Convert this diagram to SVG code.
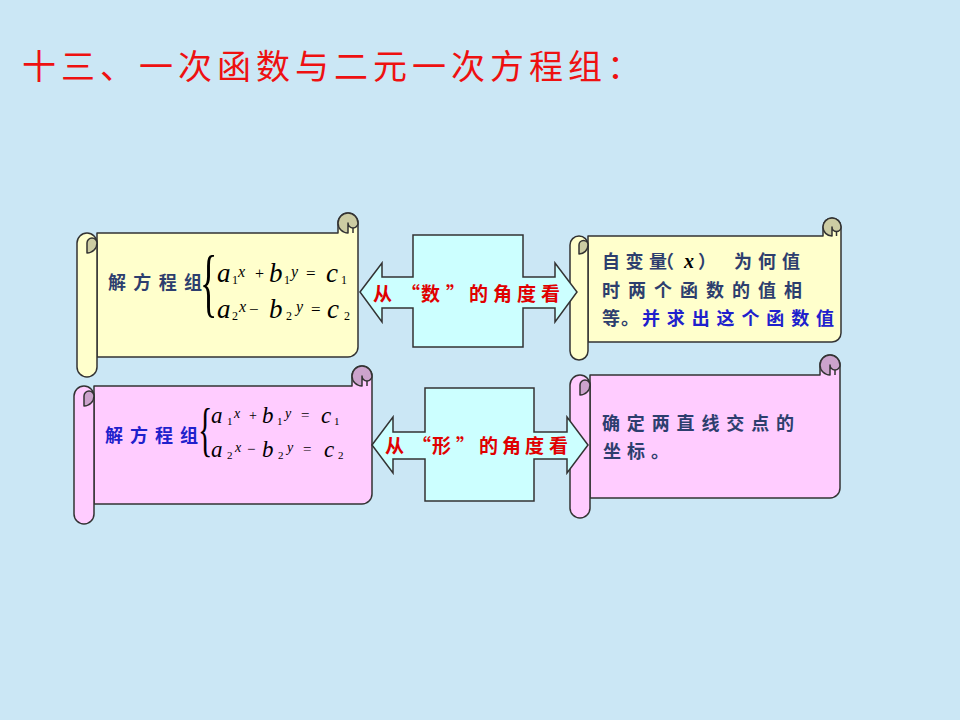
<svg xmlns="http://www.w3.org/2000/svg" width="960" height="720" viewBox="0 0 960 720">
<style>
.bg{fill:#cbe7f5}
.out{stroke:#333;stroke-width:1.5;stroke-linejoin:round}
.yel{fill:#ffffcc}
.yelD{fill:#cccca3}
.pnk{fill:#ffccff}
.pnkD{fill:#cca3cc}
.arr{fill:#ccffff;stroke:#333;stroke-width:1.5;stroke-linejoin:miter}
.line{fill:none;stroke:#333;stroke-width:1.5}
.cjk{font-family:"Noto Sans CJK SC","Noto Sans CJK TC",sans-serif;font-weight:bold;font-size:18px}
.dark{fill:#2d3e6e}
.blue{fill:#2020cc}
.red{fill:#e00000;font-size:19px}
.m{font-family:"Liberation Serif","Times New Roman",serif;fill:#000}
.i{font-style:italic}
</style>
<rect class="bg" x="0" y="0" width="960" height="720"/>

<g id="title">
<text x="22" y="79" font-family="Noto Sans CJK SC, sans-serif" font-size="34" fill="#ee1111" textLength="619" lengthAdjust="spacing">十三、一次函数与二元一次方程组：</text>
</g>

<g id="scroll-eq-number">
<path class="out yel" d="M97,233 L338,233 L338,223 A10,10 0 0 1 358,223 L358,347 A10,10 0 0 1 348,357 L97,357 Z"/>
<path class="out yelD" d="M338,223 A10,10 0 0 1 358,223 A5,5 0 0 1 348,223 L348,233 A10,10 0 0 1 338,223 Z"/>
<path class="line" d="M353,228 L353,233"/>
<path class="out yel" d="M77,243 A10,10 0 0 1 97,243 L97,367 A10,10 0 0 1 77,367 Z"/>
<path class="out yelD" d="M87,243 A5,5 0 0 1 97,243 A10,10 0 0 1 87,253 Z"/>
<text class="cjk dark" x="108" y="289" textLength="94" lengthAdjust="spacing">解方程组</text>
<text class="m" transform="translate(200,308) scale(1,2.1)" font-size="36">{</text>
<g class="m">
<text class="i" x="217" y="282" font-size="27">a</text>
<text x="232" y="284" font-size="12">1</text>
<text class="i" x="238" y="277" font-size="16">x</text>
<text x="255" y="279" font-size="16">+</text>
<text class="i" x="269" y="282" font-size="27">b</text>
<text x="284" y="284" font-size="12">1</text>
<text class="i" x="291" y="277" font-size="16">y</text>
<text x="306" y="279" font-size="17">=</text>
<text class="i" x="326" y="282" font-size="27">c</text>
<text x="341" y="284" font-size="12">1</text>
<text class="i" x="217" y="318" font-size="27">a</text>
<text x="232" y="320" font-size="12">2</text>
<text class="i" x="239" y="312" font-size="16">x</text>
<text x="249" y="315" font-size="17">−</text>
<text class="i" x="269" y="318" font-size="27">b</text>
<text x="286" y="320" font-size="12">2</text>
<text class="i" x="296" y="312" font-size="16">y</text>
<text x="311" y="315" font-size="17">=</text>
<text class="i" x="327" y="318" font-size="27">c</text>
<text x="344" y="320" font-size="12">2</text>
</g>
</g>

<g id="scroll-number-result">
<path class="out yel" d="M588,236 L823,236 L823,227 A9,9 0 0 1 841,227 L841,333 A9,9 0 0 1 832,342 L588,342 Z"/>
<path class="out yelD" d="M823,227 A9,9 0 0 1 841,227 A4.5,4.5 0 0 1 832,227 L832,236 A9,9 0 0 1 823,227 Z"/>
<path class="line" d="M836.5,231.5 L836.5,236"/>
<path class="out yel" d="M570,245 A9,9 0 0 1 588,245 L588,351 A9,9 0 0 1 570,351 Z"/>
<path class="out yelD" d="M579,245 A4.5,4.5 0 0 1 588,245 A9,9 0 0 1 579,254 Z"/>
<text class="cjk dark" x="602 625.5 649 656" y="268">自变量（<tspan class="m i" x="684" font-size="20" fill="#2d3e6e">x</tspan><tspan x="698">）</tspan><tspan x="734 758 782">为何值</tspan></text>
<text class="cjk dark" x="602" y="297" textLength="200" lengthAdjust="spacing">时两个函数的值相</text>
<text class="cjk dark" x="602 621" y="325">等。</text>
<text class="cjk blue" x="642" y="325" textLength="192" lengthAdjust="spacing">并求出这个函数值</text>
</g>

<g id="scroll-eq-shape">
<path class="out pnk" d="M94,386 L352,386 L352,376 A10,10 0 0 1 372,376 L372,494 A10,10 0 0 1 362,504 L94,504 Z"/>
<path class="out pnkD" d="M352,376 A10,10 0 0 1 372,376 A5,5 0 0 1 362,376 L362,386 A10,10 0 0 1 352,376 Z"/>
<path class="line" d="M367,381 L367,386"/>
<path class="out pnk" d="M74,396 A10,10 0 0 1 94,396 L94,514 A10,10 0 0 1 74,514 Z"/>
<path class="out pnkD" d="M84,396 A5,5 0 0 1 94,396 A10,10 0 0 1 84,406 Z"/>
<text class="cjk blue" x="105" y="442" textLength="93" lengthAdjust="spacing">解方程组</text>
<text class="m" transform="translate(198,449) scale(1,1.95)" font-size="30">{</text>
<g class="m">
<text class="i" x="211" y="423" font-size="23">a</text>
<text x="227" y="425" font-size="11">1</text>
<text class="i" x="234" y="418" font-size="14">x</text>
<text x="249" y="420" font-size="14">+</text>
<text class="i" x="262" y="423" font-size="23">b</text>
<text x="277" y="425" font-size="11">1</text>
<text class="i" x="285" y="418" font-size="14">y</text>
<text x="301" y="420" font-size="15">=</text>
<text class="i" x="321" y="423" font-size="23">c</text>
<text x="334" y="425" font-size="11">1</text>
<text class="i" x="211" y="457" font-size="23">a</text>
<text x="227" y="459" font-size="11">2</text>
<text class="i" x="235" y="452" font-size="14">x</text>
<text x="247" y="454" font-size="15">−</text>
<text class="i" x="262" y="457" font-size="23">b</text>
<text x="278" y="459" font-size="11">2</text>
<text class="i" x="287" y="452" font-size="14">y</text>
<text x="303" y="454" font-size="15">=</text>
<text class="i" x="324" y="457" font-size="23">c</text>
<text x="338" y="459" font-size="11">2</text>
</g>
</g>

<g id="scroll-shape-result">
<path class="out pnk" d="M590,375 L820,375 L820,365 A10,10 0 0 1 840,365 L840,488 A10,10 0 0 1 830,498 L590,498 Z"/>
<path class="out pnkD" d="M820,365 A10,10 0 0 1 840,365 A5,5 0 0 1 830,365 L830,375 A10,10 0 0 1 820,365 Z"/>
<path class="line" d="M835,370 L835,375"/>
<path class="out pnk" d="M570,385 A10,10 0 0 1 590,385 L590,508 A10,10 0 0 1 570,508 Z"/>
<path class="out pnkD" d="M580,385 A5,5 0 0 1 590,385 A10,10 0 0 1 580,395 Z"/>
<text class="cjk dark" x="602" y="430" textLength="192" lengthAdjust="spacing">确定两直线交点的</text>
<text class="cjk dark" x="603 627 651" y="458">坐标。</text>
</g>

<g id="connectors">
<g id="arrow-number">
<path class="arr" d="M360,292 L382,263 L382,277 L413,277 L413,235 L523,235 L523,277 L555,277 L555,263 L577,292 L555,322 L555,308 L523,308 L523,347 L413,347 L413,308 L382,308 L382,322 Z"/>
<text class="cjk red" x="373 401 421 446 469 493 517 541" y="301">从“数”的角度看</text>
</g>
<g id="arrow-shape">
<path class="arr" d="M372,445 L393,417 L393,432 L425,432 L425,388 L534,388 L534,432 L567,432 L567,417 L588,445 L567,473 L567,459 L534,459 L534,501 L425,501 L425,459 L393,459 L393,473 Z"/>
<text class="cjk red" x="385 412 432 456 479 502 525 549" y="453">从“形”的角度看</text>
</g>
</g>
</svg>
